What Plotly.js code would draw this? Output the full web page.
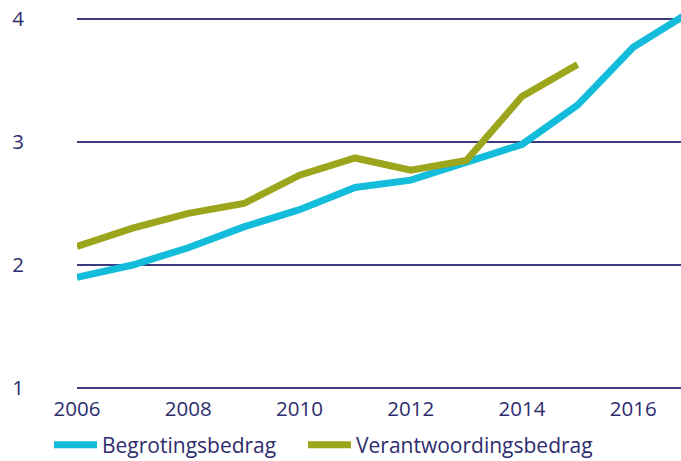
<!DOCTYPE html>
<html>
<head>
<meta charset="utf-8">
<script src="https://cdn.plot.ly/plotly-3.0.1.min.js"></script>
<style>html,body{margin:0;padding:0;background:#fff;}#chart{width:681px;height:461px;}</style>
</head>
<body>
<div id="chart"></div>
<script>
var years = [2006, 2007, 2008, 2009, 2010, 2011, 2012, 2013, 2014, 2015, 2016, 2017];
var begroting = [1.90, 2.00, 2.14, 2.31, 2.45, 2.63, 2.69, 2.83, 2.98, 3.30, 3.77, 4.05];
var verantwoordingYears = [2006, 2007, 2008, 2009, 2010, 2011, 2012, 2013, 2014, 2015];
var verantwoording = [2.15, 2.30, 2.42, 2.50, 2.73, 2.87, 2.77, 2.85, 3.37, 3.63];
var seriesNames = ['Begrotingsbedrag', 'Verantwoordingsbedrag'];
var xTicks = [2006, 2008, 2010, 2012, 2014, 2016];
var yTicks = [1, 2, 3, 4];

var navy = '#2d2c6e';
var fam = '"Open Sans", Lato, sans-serif';
var traces = [
  {x: years, y: begroting, name: seriesNames[0], mode: 'lines', line: {color: '#14bcdb', width: 7}, legend: 'legend'},
  {x: verantwoordingYears, y: verantwoording, name: seriesNames[1], mode: 'lines', line: {color: '#9ca61c', width: 7}, legend: 'legend2'}
];
var yBottom = 1 - 2 / 123;
var legendBase = {orientation: 'h', xref: 'container', xanchor: 'left', yref: 'container', y: 16 / 461, yanchor: 'middle', font: {family: fam, size: 21, color: navy}, itemwidth: 43, bgcolor: 'rgba(0,0,0,0)', borderwidth: 0};
var layout = {
  width: 681, height: 461,
  margin: {l: 77, r: 0, t: 4, b: 71},
  paper_bgcolor: '#fff', plot_bgcolor: '#fff',
  font: {family: fam, size: 20.5, color: navy},
  showlegend: true,
  legend: Object.assign({}, legendBase, {x: 49 / 681}),
  legend2: Object.assign({}, legendBase, {x: 303 / 681}),
  xaxis: {range: [2006, 2016.86], tickvals: xTicks, ticktext: xTicks.map(String), showgrid: false, zeroline: false, showline: false, ticks: '', ticklabelstandoff: 4, fixedrange: true},
  yaxis: {range: [yBottom, yBottom + 386 / 123], tickvals: yTicks, ticktext: yTicks.map(String), showgrid: true, gridcolor: '#3b3a80', gridwidth: 1.5, zeroline: false, showline: false, ticks: '', ticklabelstandoff: 52, fixedrange: true}
};
Plotly.newPlot('chart', traces, layout, {displayModeBar: false, staticPlot: true});
</script>
</body>
</html>
